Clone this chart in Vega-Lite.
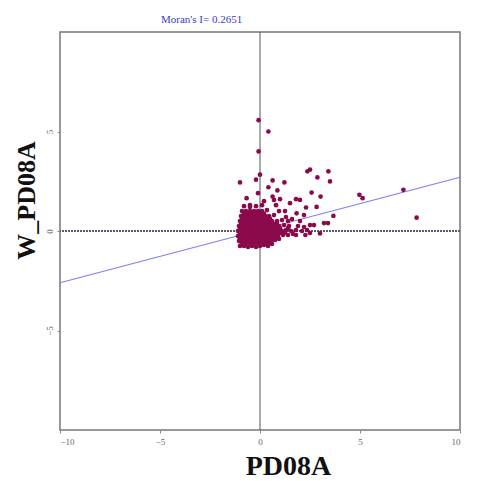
{
  "$schema": "https://vega.github.io/schema/vega-lite/v6.json",
  "autosize": {"type": "none"},
  "width": 400,
  "height": 398,
  "padding": {"left": 60, "top": 32, "right": 30, "bottom": 51},
  "background": "white",
  "config": {
    "view": {"stroke": "#777", "strokeWidth": 1.5},
    "axis": {"grid": false, "domain": false, "tickSize": 3, "tickColor": "#888", "labelFont": "Liberation Serif", "labelFontSize": 9, "labelColor": "#666", "titleFont": "Liberation Serif", "titleFontWeight": "bold", "titleColor": "#111"}
  },
  "title": {"text": "Moran's I= 0.2651", "font": "Liberation Serif", "fontSize": 11, "fontWeight": "normal", "color": "#3a3ad0", "anchor": "start", "dx": 148, "offset": 7},
  "datasets": {
    "pts": [
      {"x": -0.07, "y": 5.57}, {"x": 0.42, "y": 5.0}, {"x": -0.07, "y": 4.0}, {"x": 0.0, "y": 2.83}, {"x": -0.2, "y": 2.58},
      {"x": -1.0, "y": 2.44}, {"x": 0.63, "y": 2.54}, {"x": 1.22, "y": 2.44}, {"x": 0.42, "y": 2.2}, {"x": 0.87, "y": 2.04},
      {"x": 2.37, "y": 3.0}, {"x": 2.5, "y": 3.08}, {"x": 3.42, "y": 3.0}, {"x": 2.87, "y": 2.69}, {"x": 3.5, "y": 2.49},
      {"x": 2.58, "y": 1.93}, {"x": 3.03, "y": 1.73}, {"x": -0.67, "y": 1.65}, {"x": 0.63, "y": 1.73}, {"x": 0.7, "y": 1.56},
      {"x": 0.8, "y": 1.3}, {"x": 1.8, "y": 1.6}, {"x": 2.0, "y": 1.56}, {"x": 1.5, "y": 1.4}, {"x": 2.83, "y": 1.21},
      {"x": 2.3, "y": 1.18}, {"x": 3.67, "y": 0.76}, {"x": 3.2, "y": 0.4}, {"x": 3.4, "y": 0.4}, {"x": 3.0, "y": -0.12},
      {"x": 4.97, "y": 1.82}, {"x": 5.13, "y": 1.65}, {"x": 7.17, "y": 2.07}, {"x": 7.83, "y": 0.67}, {"x": 1.8, "y": -0.2},
      {"x": 2.27, "y": -0.2}, {"x": -0.5, "y": 1.2}, {"x": 0.95, "y": 1.0}, {"x": 1.25, "y": 1.0}, {"x": 1.83, "y": 0.89},
      {"x": 2.5, "y": 0.3}, {"x": 2.7, "y": 0.3}, {"x": 2.5, "y": -0.1}, {"x": 1.3, "y": 0.7}, {"x": 1.6, "y": 0.6},
      {"x": 2.0, "y": 0.5}, {"x": 2.2, "y": 0.8}, {"x": 1.0, "y": 1.6}, {"x": -0.1, "y": 1.9}, {"x": 0.2, "y": 1.5},

      {"x": -1.0, "y": -0.75}, {"x": -0.8, "y": -0.75}, {"x": -0.6, "y": -0.8}, {"x": -0.4, "y": -0.75}, {"x": -0.2, "y": -0.8},
      {"x": 0.0, "y": -0.75}, {"x": 0.2, "y": -0.7}, {"x": 0.4, "y": -0.75}, {"x": 0.6, "y": -0.65},
      {"x": -0.9, "y": -0.62}, {"x": -0.7, "y": -0.62}, {"x": -0.5, "y": -0.62}, {"x": -0.3, "y": -0.62}, {"x": -0.1, "y": -0.62},
      {"x": 0.1, "y": -0.62}, {"x": 0.3, "y": -0.62}, {"x": 0.5, "y": -0.6},

      {"x": -1.05, "y": -0.5}, {"x": -0.85, "y": -0.5}, {"x": -0.65, "y": -0.5}, {"x": -0.45, "y": -0.5}, {"x": -0.25, "y": -0.5},
      {"x": -0.05, "y": -0.5}, {"x": 0.15, "y": -0.5}, {"x": 0.35, "y": -0.5}, {"x": 0.55, "y": -0.5}, {"x": 0.75, "y": -0.45},
      {"x": 0.95, "y": -0.4},
      {"x": -1.0, "y": -0.37}, {"x": -0.8, "y": -0.37}, {"x": -0.6, "y": -0.37}, {"x": -0.4, "y": -0.37}, {"x": -0.2, "y": -0.37},
      {"x": 0.0, "y": -0.37}, {"x": 0.2, "y": -0.37}, {"x": 0.4, "y": -0.37}, {"x": 0.6, "y": -0.37}, {"x": 0.8, "y": -0.35},

      {"x": -1.1, "y": -0.25}, {"x": -0.9, "y": -0.25}, {"x": -0.7, "y": -0.25}, {"x": -0.5, "y": -0.25}, {"x": -0.3, "y": -0.25},
      {"x": -0.1, "y": -0.25}, {"x": 0.1, "y": -0.25}, {"x": 0.3, "y": -0.25}, {"x": 0.5, "y": -0.25}, {"x": 0.7, "y": -0.25},
      {"x": 0.9, "y": -0.25}, {"x": 1.15, "y": -0.2}, {"x": 1.4, "y": -0.2}, {"x": 1.65, "y": -0.15},
      {"x": -1.0, "y": -0.12}, {"x": -0.8, "y": -0.12}, {"x": -0.6, "y": -0.12}, {"x": -0.4, "y": -0.12}, {"x": -0.2, "y": -0.12},
      {"x": 0.0, "y": -0.12}, {"x": 0.2, "y": -0.12}, {"x": 0.4, "y": -0.12}, {"x": 0.6, "y": -0.12}, {"x": 0.8, "y": -0.12},
      {"x": 1.0, "y": -0.1}, {"x": 1.25, "y": -0.08},

      {"x": -1.1, "y": 0.0}, {"x": -0.9, "y": 0.0}, {"x": -0.7, "y": 0.0}, {"x": -0.5, "y": 0.0}, {"x": -0.3, "y": 0.0},
      {"x": -0.1, "y": 0.0}, {"x": 0.1, "y": 0.0}, {"x": 0.3, "y": 0.0}, {"x": 0.5, "y": 0.0}, {"x": 0.7, "y": 0.0},
      {"x": 0.9, "y": 0.0}, {"x": 1.1, "y": 0.0}, {"x": 1.3, "y": 0.05}, {"x": 1.55, "y": 0.0}, {"x": 1.8, "y": 0.05},
      {"x": 2.1, "y": 0.0}, {"x": 2.35, "y": 0.05},
      {"x": -1.0, "y": 0.12}, {"x": -0.8, "y": 0.12}, {"x": -0.6, "y": 0.12}, {"x": -0.4, "y": 0.12}, {"x": -0.2, "y": 0.12},
      {"x": 0.0, "y": 0.12}, {"x": 0.2, "y": 0.12}, {"x": 0.4, "y": 0.12}, {"x": 0.6, "y": 0.12}, {"x": 0.8, "y": 0.12},
      {"x": 1.0, "y": 0.14}, {"x": 1.4, "y": 0.14},

      {"x": -1.05, "y": 0.25}, {"x": -0.85, "y": 0.25}, {"x": -0.65, "y": 0.25}, {"x": -0.45, "y": 0.25}, {"x": -0.25, "y": 0.25},
      {"x": -0.05, "y": 0.25}, {"x": 0.15, "y": 0.25}, {"x": 0.35, "y": 0.25}, {"x": 0.55, "y": 0.25}, {"x": 0.75, "y": 0.25},
      {"x": 0.95, "y": 0.25}, {"x": 1.2, "y": 0.3}, {"x": 1.45, "y": 0.25}, {"x": 1.9, "y": 0.25}, {"x": 2.2, "y": 0.2},
      {"x": -0.95, "y": 0.37}, {"x": -0.75, "y": 0.37}, {"x": -0.55, "y": 0.37}, {"x": -0.35, "y": 0.37}, {"x": -0.15, "y": 0.37},
      {"x": 0.05, "y": 0.37}, {"x": 0.25, "y": 0.37}, {"x": 0.45, "y": 0.37}, {"x": 0.65, "y": 0.37}, {"x": 0.85, "y": 0.4},

      {"x": -1.0, "y": 0.5}, {"x": -0.8, "y": 0.5}, {"x": -0.6, "y": 0.5}, {"x": -0.4, "y": 0.5}, {"x": -0.2, "y": 0.5},
      {"x": 0.0, "y": 0.5}, {"x": 0.2, "y": 0.5}, {"x": 0.4, "y": 0.5}, {"x": 0.6, "y": 0.5}, {"x": 0.85, "y": 0.5},
      {"x": 1.1, "y": 0.55}, {"x": 1.4, "y": 0.5},
      {"x": -0.9, "y": 0.62}, {"x": -0.7, "y": 0.62}, {"x": -0.5, "y": 0.62}, {"x": -0.3, "y": 0.62}, {"x": -0.1, "y": 0.62},
      {"x": 0.1, "y": 0.62}, {"x": 0.3, "y": 0.62}, {"x": 0.5, "y": 0.62},

      {"x": -0.95, "y": 0.75}, {"x": -0.75, "y": 0.75}, {"x": -0.55, "y": 0.75}, {"x": -0.35, "y": 0.75}, {"x": -0.15, "y": 0.75},
      {"x": 0.05, "y": 0.75}, {"x": 0.25, "y": 0.75}, {"x": 0.45, "y": 0.75}, {"x": 0.7, "y": 0.8},
      {"x": -0.8, "y": 0.88}, {"x": -0.6, "y": 0.88}, {"x": -0.4, "y": 0.88}, {"x": -0.2, "y": 0.88}, {"x": 0.0, "y": 0.88},
      {"x": 0.2, "y": 0.88},

      {"x": -0.9, "y": 1.0}, {"x": -0.7, "y": 1.0}, {"x": -0.5, "y": 1.0}, {"x": -0.3, "y": 1.0}, {"x": -0.1, "y": 1.0},
      {"x": 0.1, "y": 1.0}, {"x": 0.35, "y": 1.05},

      {"x": -0.8, "y": 1.25}, {"x": -0.5, "y": 1.3}, {"x": -0.2, "y": 1.25}, {"x": 0.1, "y": 1.3}
    ],
    "fit": [{"x": -10, "y": -2.6}, {"x": 10, "y": 2.7}]
  },
  "layer": [
    {
      "data": {"values": [{"v": 0}]},
      "mark": {"type": "rule", "color": "#555", "strokeWidth": 1},
      "encoding": {"x": {"field": "v", "type": "quantitative", "scale": {"domain": [-10, 10]}}}
    },
    {
      "data": {"values": [{"v": 0}]},
      "mark": {"type": "rule", "color": "#5a5a70", "strokeWidth": 2, "strokeDash": [2, 1]},
      "encoding": {"y": {"field": "v", "type": "quantitative", "scale": {"domain": [-10, 10]}}}
    },
    {
      "data": {"name": "fit"},
      "mark": {"type": "line", "color": "#8080f0", "strokeWidth": 1.2},
      "encoding": {
        "x": {"field": "x", "type": "quantitative"},
        "y": {"field": "y", "type": "quantitative"}
      }
    },
    {
      "data": {"name": "pts"},
      "mark": {"type": "circle", "size": 22, "color": "#8b0a4c", "opacity": 1},
      "encoding": {
        "x": {"field": "x", "type": "quantitative", "scale": {"domain": [-10, 10], "nice": false, "zero": false},
          "axis": {"values": [-10, -5, 0, 5, 10], "title": "PD08A", "titleFontSize": 28, "titleX": 228, "titleY": 44, "titleAlign": "center", "titleBaseline": "alphabetic", "labelPadding": 4}},
        "y": {"field": "y", "type": "quantitative", "scale": {"domain": [-10, 10], "nice": false, "zero": false},
          "axis": {"values": [-5, 0, 5], "title": "W_PD08A", "titleFontSize": 26, "titleX": -26, "titleY": 168, "titleAlign": "center", "titleBaseline": "alphabetic", "titleAngle": 270, "labelAngle": -90, "labelAlign": "center", "labelBaseline": "bottom", "labelPadding": 3}}
      }
    }
  ]
}
